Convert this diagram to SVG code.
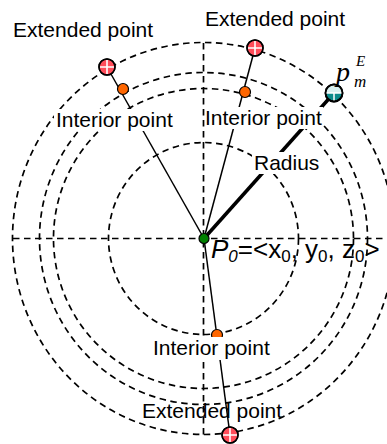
<svg xmlns="http://www.w3.org/2000/svg" width="387" height="444" viewBox="0 0 387 444">
<style>
.dash{fill:none;stroke:#000;stroke-width:1.7;stroke-dasharray:6.5,4.5}
.ln{stroke:#000;stroke-width:1.5;fill:none}
.thick{stroke:#000;stroke-width:3.5;fill:none}
.lbl{font-family:"Liberation Sans",Arial,sans-serif;font-size:21px;fill:#000}
.bg{fill:#fff}
.ext{fill:#ff4d5a;stroke:#000;stroke-width:1.5}
.cross{stroke:#fff;stroke-width:1.6}
.int{fill:#ff6600;stroke:#000;stroke-width:1.2}
.math{font-family:"Liberation Serif","Times New Roman",serif;font-style:italic;fill:#000}
</style>
<rect width="387" height="444" fill="#fff"/>
<g id="grid">
  <ellipse class="dash" cx="203.5" cy="238.5" rx="191" ry="196"/>
  <ellipse class="dash" cx="203.5" cy="238.5" rx="164" ry="166"/>
  <ellipse class="dash" cx="203.5" cy="238.5" rx="150" ry="150"/>
  <ellipse class="dash" cx="203.5" cy="238.5" rx="95" ry="96"/>
  <line class="dash" x1="13" y1="238.5" x2="387" y2="238.5"/>
  <line class="dash" x1="203.5" y1="43" x2="203.5" y2="435"/>
</g>
<g id="connectors">
  <line class="ln" x1="107" y1="67" x2="204" y2="238.5"/>
  <line class="ln" x1="255" y1="48" x2="204" y2="238.5"/>
  <line class="ln" x1="230" y1="435" x2="204" y2="238.5"/>
  <line class="thick" x1="334" y1="93" x2="204" y2="238.5"/>
</g>
<g id="center">
  <circle cx="204" cy="238.5" r="5" fill="#008000" stroke="#000" stroke-width="1.2"/>
  <text class="lbl" x="211" y="258" style="font-size:26px"><tspan font-style="italic">P</tspan><tspan style="font-size:17px" font-style="italic" dy="4">0</tspan><tspan dy="-4">=&lt;x</tspan><tspan style="font-size:17px" dy="4">0</tspan><tspan dy="-4">, y</tspan><tspan style="font-size:17px" dy="4">0</tspan><tspan dy="-4">, z</tspan><tspan style="font-size:17px" dy="4">0</tspan><tspan dy="-4">&gt;</tspan></text>
</g>
<g id="interior-tl">
  <circle class="int" cx="123" cy="89" r="5.5"/>
  <rect class="bg" x="54" y="109" width="123" height="22"/>
  <text class="lbl" x="56" y="127">Interior point</text>
</g>
<g id="interior-tr">
  <circle class="int" cx="245" cy="92" r="5.5"/>
  <rect class="bg" x="205" y="107" width="118" height="22"/>
  <text class="lbl" x="205" y="125">Interior point</text>
</g>
<g id="interior-bottom">
  <circle class="int" cx="217" cy="335" r="5.5"/>
  <rect class="bg" x="151" y="337" width="119" height="23"/>
  <text class="lbl" x="153" y="355">Interior point</text>
</g>
<g id="extended-tl">
  <circle class="ext" cx="107" cy="67" r="8"/>
  <path class="cross" d="M107 60v14M100 67h14"/>
  <circle cx="107" cy="67" r="8" fill="none" stroke="#000" stroke-width="1.5"/>
  <text class="lbl" x="13" y="37">Extended point</text>
</g>
<g id="extended-tr">
  <circle class="ext" cx="255" cy="48" r="8"/>
  <path class="cross" d="M255 41v14M248 48h14"/>
  <circle cx="255" cy="48" r="8" fill="none" stroke="#000" stroke-width="1.5"/>
  <text class="lbl" x="205" y="26">Extended point</text>
</g>
<g id="extended-bottom">
  <circle class="ext" cx="230" cy="435" r="8"/>
  <path class="cross" d="M230 428v14M223 435h14"/>
  <circle cx="230" cy="435" r="8" fill="none" stroke="#000" stroke-width="1.5"/>
  <text class="lbl" x="142" y="418">Extended point</text>
</g>
<g id="pmE">
  <circle cx="334" cy="93" r="8.5" fill="#0a8a8a" stroke="#000" stroke-width="1.8"/>
  <path d="M326 93a8 8 0 0 1 16 0z" fill="#d8f0f0"/>
  <path d="M326 93h16M334 93v8" stroke="#fff" stroke-width="1.5"/>
  <circle cx="334" cy="93" r="8.5" fill="none" stroke="#000" stroke-width="1.8"/>
  <text class="math" x="336" y="81" font-size="28">p</text>
  <text class="math" x="354" y="87" font-size="17">m</text>
  <text class="math" x="356" y="66" font-size="15">E</text>
</g>
<g id="radius">
  <rect class="bg" x="252" y="152" width="68" height="22"/>
  <text class="lbl" x="254" y="170">Radius</text>
</g>
</svg>
